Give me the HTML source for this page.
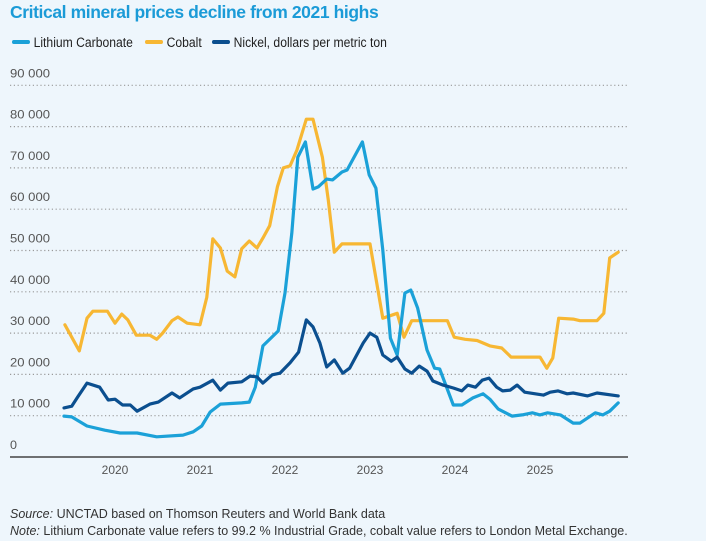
<!DOCTYPE html>
<html><head><meta charset="utf-8"><style>
body{margin:0;background:#eef6fc;font-family:"Liberation Sans",Arial,sans-serif;}
#w{position:relative;width:706px;height:541px;overflow:hidden;background:#eef6fc;}
.t{position:absolute;left:10px;top:2px;font-size:17.5px;font-weight:bold;color:#1b9bd7;letter-spacing:-0.4px;}
.lg{position:absolute;top:35px;font-size:13.5px;color:#222;transform:scaleX(0.9);transform-origin:left center;white-space:nowrap;}
.sw{display:inline-block;width:20px;height:4px;border-radius:2px;vertical-align:middle;margin-right:4px;position:relative;top:-1px;}
.fn{position:absolute;left:10px;font-size:12.5px;color:#333;white-space:nowrap;}
</style></head><body>
<div id="w">
<div class="t">Critical mineral prices decline from 2021 highs</div>
<div class="lg" style="left:12px"><span class="sw" style="background:#1ba1d8"></span>Lithium Carbonate</div>
<div class="lg" style="left:145px"><span class="sw" style="background:#f7b733"></span>Cobalt</div>
<div class="lg" style="left:212px"><span class="sw" style="background:#0b4f8f"></span>Nickel, dollars per metric ton</div>
<svg id="c" width="706" height="541" style="position:absolute;left:0;top:0"></svg>
<div class="fn" style="top:507px"><i>Source:</i> UNCTAD based on Thomson Reuters and World Bank data</div>
<div class="fn" style="top:524px"><i>Note:</i> Lithium Carbonate value refers to 99.2 % Industrial Grade, cobalt value refers to London Metal Exchange.</div>
</div>
<script>
const yTicks=[0,10000,20000,30000,40000,50000,60000,70000,80000,90000];
const yTickLabels=["0","10 000","20 000","30 000","40 000","50 000","60 000","70 000","80 000","90 000"];
const xTicks=[2020,2021,2022,2023,2024,2025];
const lithiumDates=[2019.40,2019.49,2019.67,2019.88,2020.06,2020.26,2020.49,2020.80,2020.92,2021.02,2021.12,2021.24,2021.49,2021.58,2021.65,2021.74,2021.92,2022.0,2022.08,2022.15,2022.24,2022.33,2022.39,2022.49,2022.56,2022.67,2022.73,2022.91,2022.99,2023.07,2023.15,2023.24,2023.32,2023.41,2023.48,2023.56,2023.67,2023.76,2023.82,2023.98,2024.08,2024.21,2024.33,2024.41,2024.51,2024.67,2024.79,2024.91,2025.0,2025.09,2025.24,2025.39,2025.47,2025.65,2025.74,2025.82,2025.92];
const lithiumValues=[9900,9700,7500,6500,5800,5800,4900,5300,6100,7500,10900,12800,13100,13300,16900,26900,30500,39700,54200,72600,76300,64900,65400,67300,67100,69000,69500,76300,68300,65100,50100,28800,24700,39700,40400,36100,25900,21500,21300,12600,12600,14300,15300,14000,11600,9900,10200,10700,10200,10700,10200,8200,8200,10700,10200,11100,13100];
const cobaltDates=[2019.41,2019.58,2019.67,2019.74,2019.91,2020.0,2020.08,2020.15,2020.25,2020.41,2020.49,2020.56,2020.67,2020.74,2020.85,2021.0,2021.08,2021.15,2021.24,2021.32,2021.41,2021.49,2021.58,2021.67,2021.74,2021.82,2021.91,2021.98,2022.06,2022.14,2022.25,2022.33,2022.44,2022.51,2022.58,2022.67,2023.0,2023.15,2023.32,2023.40,2023.49,2023.91,2023.99,2024.12,2024.26,2024.41,2024.55,2024.66,2025.0,2025.08,2025.15,2025.22,2025.39,2025.47,2025.67,2025.75,2025.82,2025.92];
const cobaltValues=[32000,25700,33600,35300,35300,32400,34600,33200,29500,29500,28500,30000,33000,33900,32400,32000,38700,52800,50600,45000,43600,50400,52300,50600,53000,56000,65400,70000,70500,74300,81800,81800,72600,62200,49600,51600,51600,33600,34800,29000,33000,33000,29000,28500,28200,26900,26400,24200,24200,21500,24000,33600,33400,33000,33000,34800,48200,49600];
const nickelDates=[2019.40,2019.49,2019.56,2019.67,2019.82,2019.92,2020.0,2020.09,2020.18,2020.26,2020.41,2020.51,2020.67,2020.76,2020.92,2021.0,2021.15,2021.24,2021.33,2021.49,2021.59,2021.67,2021.74,2021.85,2021.94,2022.06,2022.16,2022.25,2022.33,2022.41,2022.49,2022.58,2022.68,2022.76,2022.92,2023.0,2023.08,2023.15,2023.25,2023.32,2023.41,2023.49,2023.58,2023.67,2023.74,2023.86,2023.98,2024.08,2024.15,2024.24,2024.32,2024.40,2024.49,2024.56,2024.65,2024.73,2024.82,2025.04,2025.12,2025.21,2025.32,2025.39,2025.56,2025.67,2025.92];
const nickelValues=[11900,12300,14500,17900,16900,13800,14000,12600,12600,11100,12800,13300,15500,14300,16500,16900,18600,16200,17900,18200,19600,19400,17900,19900,20300,22800,25400,33200,31500,27600,21800,23500,20300,21500,27600,30000,29000,24700,23200,24200,21300,20300,22000,20800,18400,17400,16700,16000,17400,16900,18600,19100,16900,16000,16200,17400,15700,15000,15700,16000,15300,15500,14800,15500,14800];

const NS="http://www.w3.org/2000/svg";
const svg=document.getElementById('c');
const y0=457,pxPer=41.3/10000;
function yS(v){return y0-v*pxPer;}
function xS(d){return 115+(d-2020)*85;}
function mk(t,a){const e=document.createElementNS(NS,t);for(const k in a)e.setAttribute(k,a[k]);svg.appendChild(e);return e;}
yTicks.forEach((v,i)=>{
  if(v>0){const g=mk('line',{x1:10,x2:628,y1:yS(v),y2:yS(v),stroke:'#9a9a9a','stroke-width':1.2,'stroke-dasharray':'1.2 2.6'});
  
  }
  const t=mk('text',{x:10,y:yS(v)-8,'font-size':12,fill:'#555','font-family':'Liberation Sans, sans-serif','textLength':yTickLabels[i].length>1?40:7,'lengthAdjust':'spacingAndGlyphs'});
  t.textContent=yTickLabels[i];
  
  
});
const ax=mk('line',{x1:10,x2:628,y1:y0,y2:y0,stroke:'#444','stroke-width':1.5});


xTicks.forEach(yr=>{
  const t=mk('text',{x:xS(yr),y:474,'font-size':12,fill:'#555','text-anchor':'middle','font-family':'Liberation Sans, sans-serif'});
  t.textContent=String(yr);
  
  
});
function line(d,v,col,name){
  const p=d.map((x,i)=>(i?'L':'M')+xS(x).toFixed(1)+','+yS(v[i]).toFixed(1)).join('');
  const e=mk('path',{d:p,fill:'none',stroke:col,'stroke-width':3.2,'stroke-linejoin':'round','stroke-linecap':'round'});
  
  
}
line(cobaltDates,cobaltValues,'#f7b733','cobalt-line');
line(lithiumDates,lithiumValues,'#1ba1d8','lithium-line');
line(nickelDates,nickelValues,'#0b4f8f','nickel-line');
</script>
</body></html>
